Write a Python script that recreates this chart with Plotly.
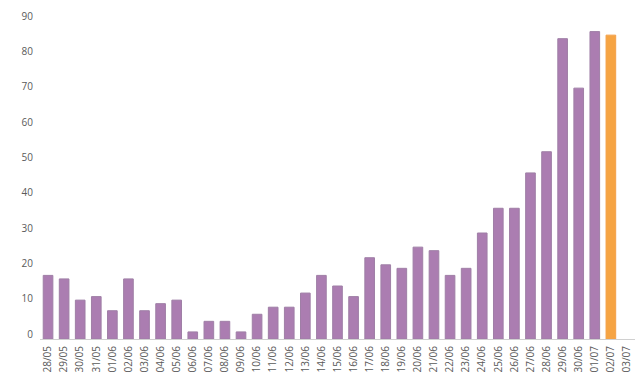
import plotly.graph_objects as go

dates = ["28/05", "29/05", "30/05", "31/05", "01/06", "02/06", "03/06", "04/06", "05/06",
         "06/06", "07/06", "08/06", "09/06", "10/06", "11/06", "12/06", "13/06", "14/06",
         "15/06", "16/06", "17/06", "18/06", "19/06", "20/06", "21/06", "22/06", "23/06",
         "24/06", "25/06", "26/06", "27/06", "28/06", "29/06", "30/06", "01/07", "02/07",
         "03/07"]
values = [18, 17, 11, 12, 8, 17, 8, 10, 11,
          2, 5, 5, 2, 7, 9, 9, 13, 18,
          15, 12, 23, 21, 20, 26, 25, 18, 20,
          30, 37, 37, 47, 53, 85, 71, 87, 86,
          None]
highlight_date = "02/07"
y_ticks = [0, 10, 20, 30, 40, 50, 60, 70, 80, 90]

purple = "#ab7db1"
orange = "#f6a443"
colors = [orange if d == highlight_date else purple for d in dates]
line_colors = ["#f3a04a" if d == highlight_date else "#9f7fa6" for d in dates]

fig = go.Figure(go.Bar(
    x=dates, y=values,
    marker=dict(color=colors, line=dict(color=line_colors, width=1)),
    hoverinfo="x+y",
))

fig.update_layout(
    width=635, height=374,
    margin=dict(l=40, r=0, t=21, b=35, autoexpand=False),
    plot_bgcolor="white", paper_bgcolor="white",
    bargap=0.4,
    showlegend=False,
    font=dict(family="Open Sans, Segoe UI, sans-serif", size=10, color="#5a5a5a"),
    xaxis=dict(
        type="category", categoryorder="array", categoryarray=dates,
        tickmode="array", tickvals=dates, ticktext=dates,
        range=[-0.5, len(dates) - 0.5],
        tickangle=-90, showgrid=False, ticks="",
        showline=True, linecolor="#d0d0d0", linewidth=1,
        tickfont=dict(size=10, color="#5a5a5a"), automargin=False,
        ticklabelstandoff=2,
    ),
    yaxis=dict(
        range=[0, 90], tickvals=y_ticks, showgrid=False, zeroline=False,
        ticks="", tickfont=dict(size=10, color="#5a5a5a"), automargin=False,
        ticklabelshift=-5, ticklabelstandoff=6,
    ),
)

fig.write_html("out.html", config={"displayModeBar": False},
               post_script="document.body.style.margin='0';")
